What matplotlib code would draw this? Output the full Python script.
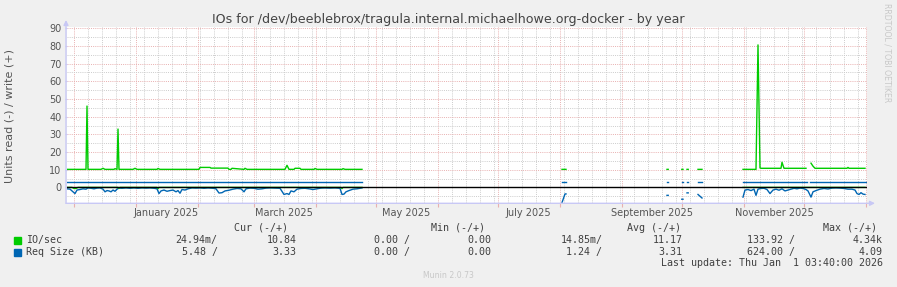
import numpy as np
import matplotlib
matplotlib.use("Agg")
import matplotlib.pyplot as plt
import matplotlib.dates as mdates
from matplotlib.ticker import MultipleLocator
from matplotlib.patches import Rectangle
from datetime import datetime

# -- data: days since the left edge of the graph (2024-11-27 12:00) --
nan = np.nan
start = datetime(2024, 11, 27, 12)
end = datetime(2026, 1, 1, 12)

# IO/sec write (+)
write_io_days = [0, 9.5, 10, 10.5, 17, 18, 19, 23.5, 24, 25, 25.5, 26, 33, 34, 35,
                 45, 45.5, 46.5, 66, 66.5, 71.5, 72, 80.5, 81, 82, 82.5, 88.5, 89, 90,
                 109, 110, 111, 113.5, 114, 116.5, 117, 123.5, 124, 125, 137.5, 138, 139, 147.5,
                 147.6, 247.5, 249.5, 249.6, 300, 300.6, 300.7, 307.4, 308, 308.1,
                 310, 310.6, 310.7, 315.5, 317.5, 317.6,
                 338, 344.5, 345.5, 346.5, 347, 357, 357.5, 358.5, 369.5, 369.6,
                 372, 373, 374, 390, 390.5, 391, 399]
write_io = [10.2, 10.2, 46, 10.2, 10.2, 10.8, 10.2, 10.2, 10.6, 10.2, 33, 10.2, 10.2, 10.8, 10.2,
            10.2, 10.7, 10.2, 10.2, 11.3, 11.3, 10.9, 10.9, 10.2, 10.2, 10.8, 10.2, 10.8, 10.2,
            10.2, 12.5, 10.2, 10.2, 10.8, 10.8, 10.2, 10.2, 10.7, 10.2, 10.2, 10.6, 10.2, 10.2,
            nan, 10.2, 10.2, nan, 10.2, 10.2, nan, 10.2, 10.2, nan,
            10.2, 10.2, nan, 10.2, 10.2, nan,
            10.2, 10.2, 80.6, 11.0, 10.8, 10.8, 14.2, 10.8, 10.8, nan,
            13.7, 12.0, 10.8, 10.8, 11.3, 10.8, 10.8]

# IO/sec read (-), mostly hidden under the zero rule
read_io_days = [0, 2.5, 3.5, 4.5, 5.5, 25.5, 26, 26.5, 45, 45.5, 46, 137, 137.5, 138, 147.5,
                147.6, 338, 399]
read_io = [0, 0, -0.6, -0.6, 0, 0, -0.5, 0, 0, -0.7, 0, 0, -0.7, 0, 0,
           nan, 0, 0]

# Req Size (KB) write (+)
write_rs_days = [0, 147.5, 147.6, 247.5, 249.5, 249.6, 300, 300.6, 300.7, 307.4, 308, 308.1,
                 310, 310.6, 310.7, 315.5, 317.5, 317.6, 338, 370, 370.1, 371.5, 399.5]
write_rs = [3.3, 3.3, nan, 3.3, 3.3, nan, 3.3, 3.3, nan, 3.3, 3.3, nan,
            3.3, 3.3, nan, 3.3, 3.3, nan, 3.3, 3.3, nan, 3.3, 3.3]

# Req Size (KB) read (-)
read_rs_days = [0, 1.5, 2.5, 4, 5, 6.5, 8, 9.5, 10.5, 12, 13.5, 15, 16.5, 18, 19, 20, 21, 22,
                23, 24, 25, 26, 27.5, 29.5, 31.5, 33.5, 35.5, 37.5, 39.5, 41.5, 43.5, 45, 46,
                47, 48.5, 50, 51.5, 53, 54.5, 55.5, 56.5, 57.5, 59, 60.5, 62.5, 64.5, 66.5,
                68.5, 70.5, 73, 74.5, 76, 77.5, 79, 81, 83, 85, 87, 88.5, 89.5, 91.5, 93.5,
                95.5, 97.5, 99.5, 101.5, 104, 106.5, 108.5, 110, 111, 112, 113.5, 115, 117,
                119, 121, 123, 125, 127, 129, 131.5, 134, 136.5, 137.5, 138.5, 139.5, 141,
                143, 145, 147.5,
                147.6, 247.5, 249, 249.5, 249.6, 300, 300.6, 300.7, 307.4, 308, 308.1,
                310, 310.6, 310.7, 315.5, 316.5, 317.5, 317.6,
                338, 339, 340.5, 342, 343.5, 344.5, 345.5, 347, 348.5, 350, 351.5, 353,
                354.5, 356, 357.5, 359, 360.5, 362, 363.5, 365, 366.5, 368, 369.5, 370.5,
                372, 373, 374.5, 376.5, 378.5, 380.5, 382.5, 384.5, 386.5, 388.5, 390.5,
                392.5, 394, 395, 396, 397, 398, 399]
read_rs = [-0.8, -1.0, -2.0, -3.5, -1.5, -1.2, -0.8, -1.0, -0.3, -0.5, -0.8, -0.4, -0.3,
           -1.0, -2.5, -1.8, -2.0, -2.5, -1.5, -2.2, -1.0, -0.4, -0.5, -0.3, -0.5, -0.3,
           -0.5, -0.3, -0.4, -0.3, -0.5, -0.8, -3.5, -2.0, -1.5, -2.2, -1.8, -1.5, -2.5,
           -1.8, -3.3, -1.2, -1.5, -0.8, -0.3, -0.4, -0.3, -0.5, -0.3, -0.5, -0.8, -3.2,
           -3.0, -2.0, -1.6, -1.0, -0.6, -0.8, -2.5, -0.8, -0.4, -0.5, -1.0, -0.8, -0.4,
           -0.3, -0.4, -0.5, -4.0, -3.5, -4.0, -2.0, -2.5, -1.0, -0.6, -0.5, -0.8, -1.2,
           -0.8, -0.4, -0.3, -0.4, -0.3, -0.5, -4.0, -3.8, -2.5, -1.8, -1.0, -0.8, -0.3,
           nan, -8.6, -3.7, -3.7, nan, -4.5, -4.5, nan, -6.7, -6.7, nan,
           -3.1, -3.1, nan, -4.0, -5.0, -6.0, nan,
           -5.5, -1.5, -1.2, -1.8, -1.0, -4.5, -1.0, -0.6, -0.5, -1.2, -3.5, -1.5,
           -1.0, -1.6, -0.8, -2.0, -1.5, -1.0, -0.5, -0.8, -0.4, -0.6, -1.2, -2.0,
           -5.5, -2.5, -1.8, -1.0, -0.6, -0.9, -0.4, -0.3, -0.4, -0.6, -1.0,
           -1.0, -1.5, -3.5, -4.0, -3.0, -3.8, -4.0]

month_labels = ["January 2025", "March 2025", "May 2025", "July 2025",
                "September 2025", "November 2025"]
month_label_dates = [datetime(2025, m, 16) for m in (1, 3, 5, 7, 9, 11)]

legend_names = ["IO/sec", "Req Size (KB)"]
legend_headers = ["Cur (-/+)", "Min (-/+)", "Avg (-/+)", "Max (-/+)"]
legend_rows = [
    ["24.94m/", "10.84", "0.00 /", "0.00", "14.85m/", "11.17", "133.92 /", "4.34k"],
    ["5.48 /", "3.33", "0.00 /", "0.00", "1.24 /", "3.31", "624.00 /", "4.09"],
]

GREEN = "#00cc00"
BLUE = "#0066b3"
MGRID = "#e8b0b0"
GRID = "#cccccc"
AXIS = "#c8c8f5"
TXT = "#404040"

W, H = 897, 287


def fx(x):
  return x / W


def fy(y):
  return 1 - y / H


fig = plt.figure(figsize=(W / 100, H / 100), dpi=100, facecolor="#f0f0f0")
ax = fig.add_axes([fx(67), fy(203.3), fx(800), 175.9 / H])
ax.set_facecolor("white")

t0 = mdates.date2num(start)
ax.plot(t0 + np.array(read_rs_days), read_rs, color=BLUE, lw=1.0)
ax.plot(t0 + np.array(write_rs_days), write_rs, color=BLUE, lw=1.0)
ax.plot(t0 + np.array(read_io_days), read_io, color=GREEN, lw=1.0)
ax.plot(t0 + np.array(write_io_days), write_io, color=GREEN, lw=1.0)
ax.axhline(0, color="black", lw=1.0)

ax.set_xlim(mdates.date2num(start), mdates.date2num(end))
ax.set_ylim(-9, 90.5)

ax.xaxis.set_major_locator(mdates.MonthLocator())
ax.xaxis.set_minor_locator(mdates.WeekdayLocator(byweekday=mdates.SU))
ax.set_yticks(np.arange(0, 91, 10))
ax.yaxis.set_minor_locator(MultipleLocator(5))
ax.set_axisbelow(True)
dots = (0, (1, 1.2))
ax.grid(which="minor", color=GRID, ls=dots, lw=0.7)
ax.grid(which="major", color=MGRID, ls=dots, lw=0.7)

ax.tick_params(axis="x", which="major", length=3, color=MGRID, labelbottom=False)
ax.tick_params(axis="x", which="minor", length=0)
ax.tick_params(axis="y", which="major", length=1.5, color=AXIS, pad=2.5,
               labelsize=7, labelcolor="#555555")
ax.tick_params(axis="y", which="minor", length=0)
for s in ax.spines.values():
  s.set_visible(False)

for d, lab in zip(month_label_dates, month_labels):
  ax.text(mdates.date2num(d), -0.053, lab, transform=ax.get_xaxis_transform(),
          ha="center", va="center", fontsize=7, color="#555555")

# axis lines with arrow heads
arrow = dict(arrowstyle="-|>", color=AXIS, lw=1.0, mutation_scale=7, shrinkA=0, shrinkB=0)
ax.annotate("", xy=(66, H - 20), xytext=(66, H - 203.3), xycoords="figure pixels",
            textcoords="figure pixels", arrowprops=arrow)
ax.annotate("", xy=(875, H - 203.3), xytext=(66, H - 203.3), xycoords="figure pixels",
            textcoords="figure pixels", arrowprops=arrow)

fig.text(fx(448), fy(20), "IOs for /dev/beeblebrox/tragula.internal.michaelhowe.org-docker - by year",
         ha="center", va="center", fontsize=9.1, color="#444444")
fig.text(fx(10), fy(116), "Units read (-) / write (+)", rotation=90,
         ha="center", va="center", fontsize=8, color="#555555")
fig.text(fx(887), fy(53), "RRDTOOL / TOBI OETIKER", rotation=270,
         ha="center", va="center", fontsize=5.6, color="#c8c8c8")

# legend block
mono = "DejaVu Sans Mono"
header_x = [288, 484.5, 681, 876.5]
for hx, h in zip(header_x, legend_headers):
  fig.text(fx(hx), fy(227.7), h, ha="right", va="center", fontsize=7.2,
           family=mono, color=TXT)

value_x = [217.5, 296.5, 409.5, 491, 602.5, 682.5, 795, 882.5]
for row_y, name, color, vals in zip([240, 252], legend_names, [GREEN, BLUE], legend_rows):
  fig.patches.append(Rectangle((fx(14.3), fy(row_y + 3.5)), fx(7), 7 / H,
                               transform=fig.transFigure, color=color))
  fig.text(fx(25.7), fy(row_y), name, ha="left", va="center", fontsize=7.2,
           family=mono, color=TXT)
  for vx, v in zip(value_x, vals):
    fig.text(fx(vx), fy(row_y), v, ha="right", va="center", fontsize=7.2,
             family=mono, color=TXT)

fig.text(fx(882.7), fy(263.5), "Last update: Thu Jan  1 03:40:00 2026", ha="right",
         va="center", fontsize=7.2, family=mono, color=TXT)
fig.text(fx(448), fy(276), "Munin 2.0.73", ha="center", va="center", fontsize=5.6,
         color="#c8c8c8")

fig.savefig("out.png", dpi=100, facecolor=fig.get_facecolor())
